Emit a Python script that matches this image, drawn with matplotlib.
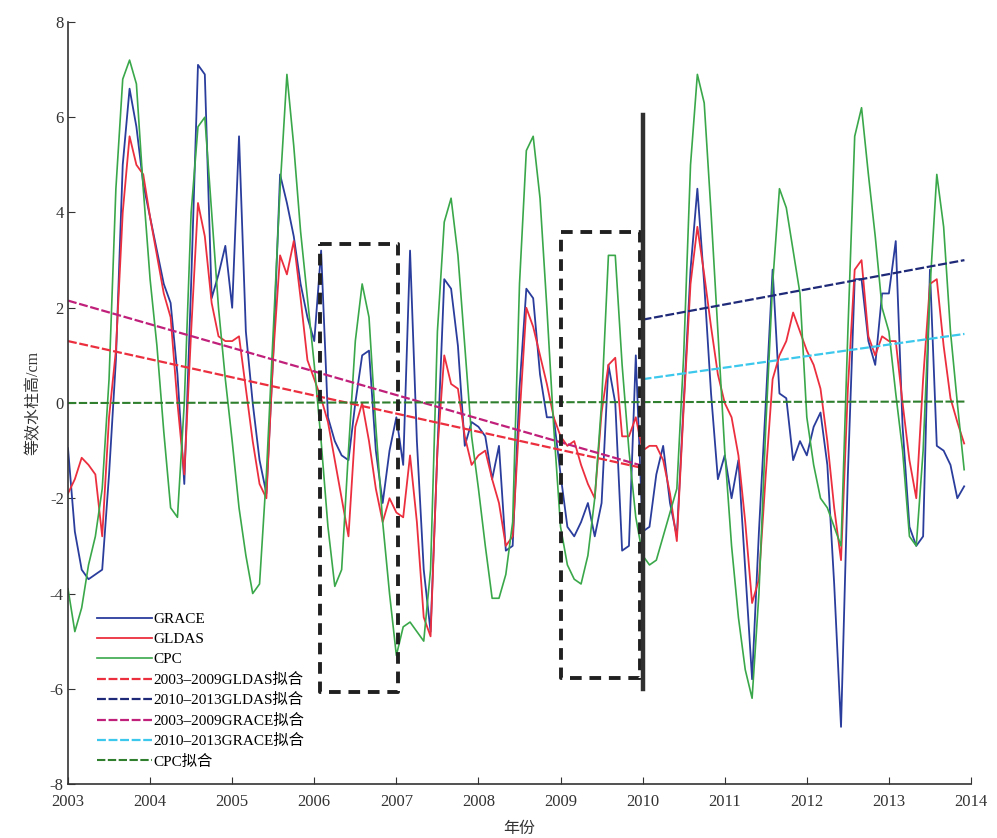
# GRACE / GLDAS / CPC 等效水柱高 2003-2013 月序列
import matplotlib.pyplot as plt
import numpy as np

plt.rcParams['font.family'] = ['Liberation Serif', 'Noto Sans CJK SC']
plt.rcParams['axes.unicode_minus'] = False

# monthly values, Jan 2003 .. Dec 2013
grace = [-0.95, -2.7, -3.5, -3.7, -3.6, -3.5, -1.5, 0.9, 5.0, 6.6, 5.8, 4.6,
         3.9, 3.2, 2.5, 2.1, 0.6, -1.7, 2.5, 7.1, 6.9, 2.2, 2.7, 3.3,
         2.0, 5.6, 1.5, 0.0, -1.2, -1.9, 1.0, 4.8, 4.2, 3.5, 2.5, 1.8,
         1.3, 3.2, -0.3, -0.8, -1.1, -1.2, 0.0, 1.0, 1.1, -1.0, -2.1, -1.0,
         -0.3, -1.3, 3.2, -0.8, -3.5, -4.8, -1.0, 2.6, 2.4, 1.2, -0.9, -0.4,
         -0.5, -0.7, -1.6, -0.9, -3.1, -3.0, 0.3, 2.4, 2.2, 0.6, -0.3, -0.3,
         -1.5, -2.6, -2.8, -2.5, -2.1, -2.8, -2.1, 0.8, 0.0, -3.1, -3.0, 1.0,
         -2.7, -2.6, -1.5, -0.9, -2.1, -2.8, 0.0, 2.8, 4.5, 2.5, 0.2, -1.6,
         -1.1, -2.0, -1.2, -3.5, -5.8, -2.7, 0.0, 2.8, 0.2, 0.1, -1.2, -0.8,
         -1.1, -0.5, -0.2, -1.3, -3.8, -6.8, -1.5, 2.6, 2.6, 1.3, 0.8, 2.3,
         2.3, 3.4, -0.5, -2.6, -3.0, -2.8, 2.8, -0.9, -1.0, -1.3, -2.0, -1.75]

gldas = [-1.9, -1.6, -1.15, -1.3, -1.5, -2.8, -0.3, 1.1, 4.0, 5.6, 5.0, 4.8,
         3.9, 3.1, 2.3, 1.8, 0.0, -1.5, 1.5, 4.2, 3.5, 2.1, 1.4, 1.3,
         1.3, 1.4, 0.3, -0.8, -1.7, -2.0, 1.0, 3.1, 2.7, 3.4, 2.2, 0.9,
         0.5, 0.1, -0.4, -1.2, -2.0, -2.8, -0.5, 0.0, -0.8, -1.8, -2.5, -2.0,
         -2.3, -2.4, -1.1, -2.5, -4.5, -4.9, -1.0, 1.0, 0.4, 0.3, -0.7, -1.3,
         -1.1, -1.0, -1.6, -2.1, -3.0, -2.8, -0.3, 2.0, 1.6, 1.0, 0.4, -0.3,
         -0.7, -0.9, -0.8, -1.3, -1.7, -2.0, -0.2, 0.8, 0.95, -0.7, -0.7, -0.3,
         -1.0, -0.9, -0.9, -1.2, -1.9, -2.9, -0.1, 2.5, 3.7, 2.7, 1.6, 0.6,
         0.0, -0.3, -1.1, -2.5, -4.2, -3.7, -1.5, 0.5, 1.0, 1.3, 1.9, 1.5,
         1.1, 0.8, 0.3, -0.8, -2.2, -3.3, 0.3, 2.8, 3.0, 1.4, 1.0, 1.4,
         1.3, 1.3, 0.0, -1.2, -2.0, 0.5, 2.5, 2.6, 1.2, 0.1, -0.4, -0.85]

cpc = [-3.9, -4.8, -4.3, -3.4, -2.8, -1.8, 0.5, 4.5, 6.8, 7.2, 6.7, 4.5,
       2.6, 1.2, -0.6, -2.2, -2.4, 0.0, 4.0, 5.8, 6.0, 4.0, 2.0, 0.5,
       -0.8, -2.2, -3.2, -4.0, -3.8, -1.5, 1.5, 4.5, 6.9, 5.4, 3.6, 2.2,
       0.8, -0.8, -2.6, -3.85, -3.5, -1.0, 1.3, 2.5, 1.8, -0.5, -2.5, -4.0,
       -5.3, -4.7, -4.6, -4.8, -5.0, -3.5, 1.5, 3.8, 4.3, 3.1, 1.2, -0.7,
       -1.8, -3.0, -4.1, -4.1, -3.6, -2.5, 2.5, 5.3, 5.6, 4.3, 2.0, -0.5,
       -2.6, -3.4, -3.7, -3.8, -3.2, -2.0, 0.0, 3.1, 3.1, 0.8, -1.0, -2.4,
       -3.2, -3.4, -3.3, -2.8, -2.3, -1.8, 1.0, 5.0, 6.9, 6.3, 4.0, 1.5,
       -1.0, -3.0, -4.5, -5.6, -6.2, -4.0, -0.5, 2.5, 4.5, 4.1, 3.2, 2.3,
       -0.3, -1.3, -2.0, -2.2, -2.6, -3.0, 1.5, 5.6, 6.2, 4.8, 3.5, 2.0,
       1.5, 0.2, -1.0, -2.8, -3.0, -1.0, 2.4, 4.8, 3.7, 1.5, 0.0, -1.4]

# trend lines (start/end)
fit_years_1 = [2003.0, 2009.96]
fit_years_2 = [2010.0, 2013.92]
gldas_fit_0309 = [1.3, -1.35]
gldas_fit_1013 = [1.75, 3.0]
grace_fit_0309 = [2.15, -1.3]
grace_fit_1013 = [0.5, 1.45]
cpc_fit_years = [2003.0, 2013.92]
cpc_fit = [0.0, 0.03]

# highlighted periods
box1_x = [2006.07, 2007.02]
box1_y = [-6.07, 3.33]
box2_x = [2009.0, 2009.97]
box2_y = [-5.78, 3.6]
split_year = 2010.0
split_y = [-6.0, 6.05]

years = 2003 + np.arange(len(grace)) / 12.0

fig = plt.figure(figsize=(9.97, 8.38), dpi=100)
ax = fig.add_axes([68/997, 54/838, 903/997, 762/838])

ax.plot(years, grace, color='#2a3d9c', lw=1.3, label='GRACE')
ax.plot(years, gldas, color='#ec2f3f', lw=1.3, label='GLDAS')
ax.plot(years, cpc, color='#3aa84a', lw=1.2, label='CPC')

ds = (0, (4, 1.2))
ax.plot(fit_years_1, gldas_fit_0309, color='#ec2f3f', lw=1.6, ls=ds, label='2003–2009GLDAS拟合')
ax.plot(fit_years_2, gldas_fit_1013, color='#1e2a78', lw=1.6, ls=ds, label='2010–2013GLDAS拟合')
ax.plot(fit_years_1, grace_fit_0309, color='#c0207a', lw=1.6, ls=ds, label='2003–2009GRACE拟合')
ax.plot(fit_years_2, grace_fit_1013, color='#3cc8ec', lw=1.6, ls=ds, label='2010–2013GRACE拟合')
ax.plot(cpc_fit_years, cpc_fit, color='#2f7f2f', lw=1.5, ls=ds, label='CPC拟合')

# dashed boxes + split line
for bx, by in [(box1_x, box1_y), (box2_x, box2_y)]:
    ax.plot([bx[0], bx[1], bx[1], bx[0], bx[0]], [by[1], by[1], by[0], by[0], by[1]],
            color='#202020', lw=2.8, ls=(0, (3, 2)))
ax.plot([split_year, split_year], split_y, color='#303030', lw=3.2)

ax.set_xlim(2003, 2014)
ax.set_ylim(-8, 8)
ax.set_xticks(range(2003, 2015))
ax.set_yticks(range(-8, 9, 2))
ax.tick_params(direction='in', length=5, labelsize=12, colors='#333333')
ax.tick_params(axis='x', pad=7)
ax.tick_params(axis='y', pad=3)
for s in ['top', 'right']:
    ax.spines[s].set_visible(False)
for s in ['left', 'bottom']:
    ax.spines[s].set_color('#333333')
    ax.spines[s].set_linewidth(1.2)

ax.set_xlabel('年份', fontsize=11.5, color='#333333', labelpad=8)
ax.set_ylabel('等效水柱高/cm', fontsize=11.5, color='#333333', labelpad=6)

ax.legend(loc='upper left', bbox_to_anchor=(0.025, 0.233), frameon=False,
          fontsize=11, handlelength=3.6, handletextpad=0.1, labelspacing=0.42,
          borderaxespad=0)

fig.savefig('out.png', dpi=100, facecolor='white')
